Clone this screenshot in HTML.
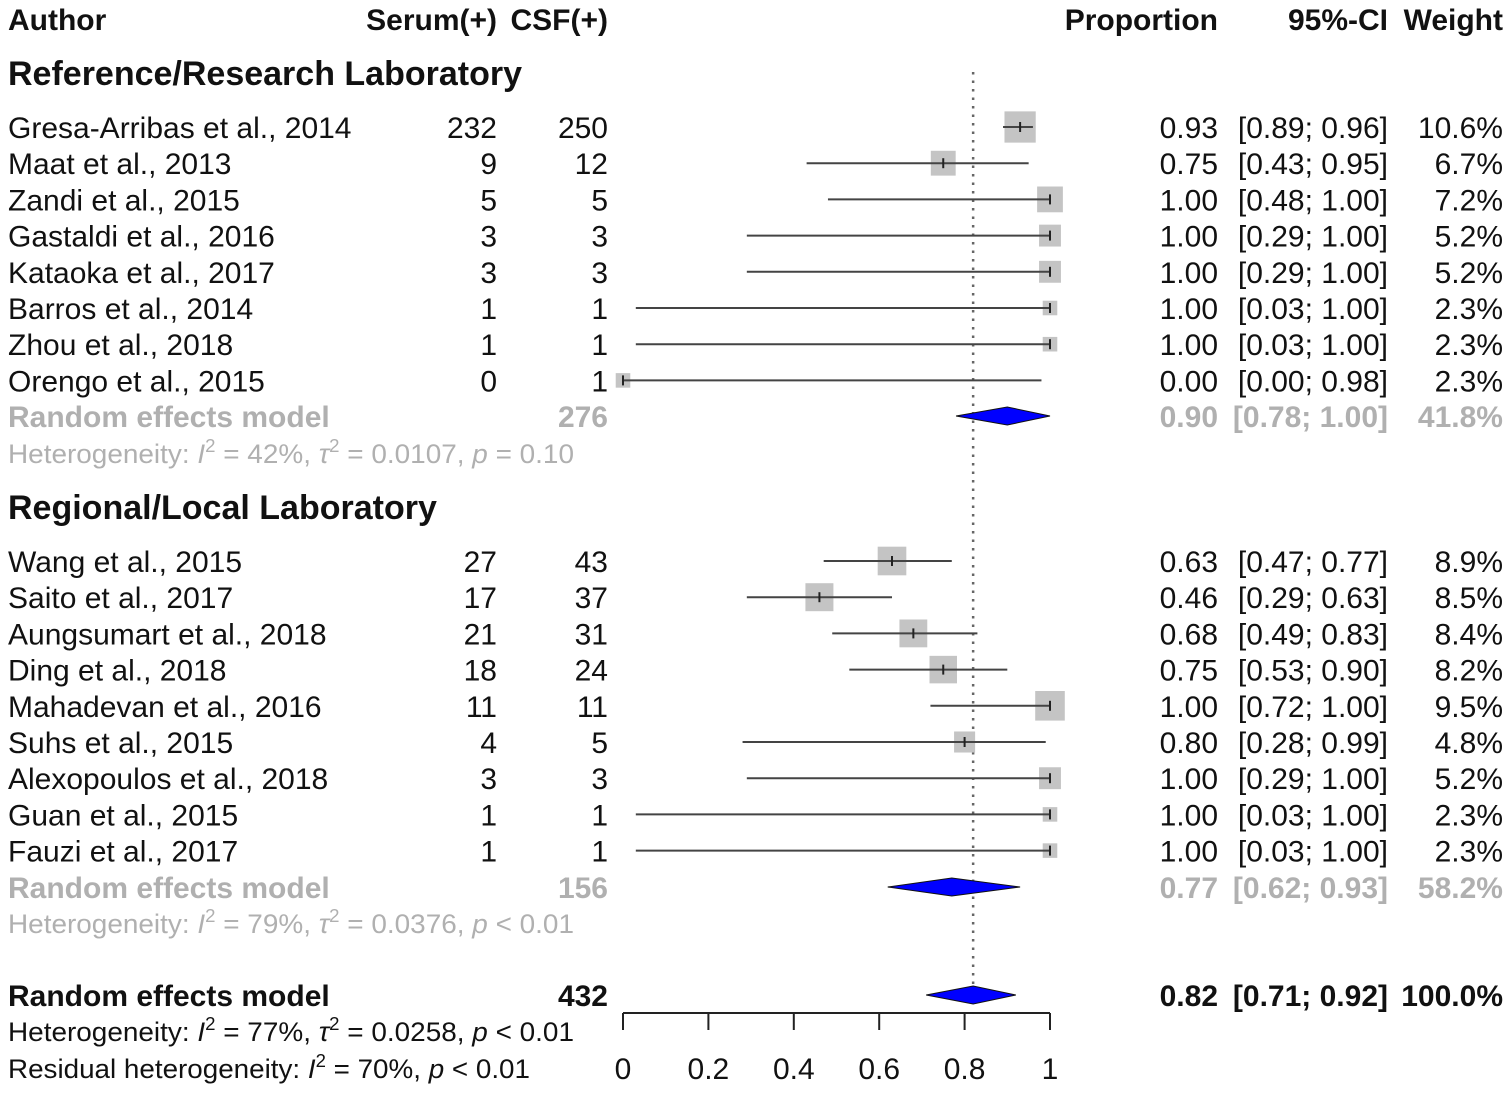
<!DOCTYPE html>
<html><head><meta charset="utf-8"><style>
html,body{margin:0;padding:0;background:#fff;}
svg{display:block;font-family:"Liberation Sans",Arial,sans-serif;}
</style></head><body>
<svg id="plot" width="1510" height="1093" viewBox="0 0 1510 1093">
<g font-size="30" font-weight="bold" fill="#111">
<text x="8" y="30">Author</text>
<text x="497" y="30" text-anchor="end">Serum(+)</text>
<text x="608" y="30" text-anchor="end">CSF(+)</text>
<text x="1218" y="30" text-anchor="end">Proportion</text>
<text x="1388" y="30" text-anchor="end">95%-CI</text>
<text x="1503" y="30" text-anchor="end">Weight</text>
</g>
<g id="marks"></g>
<g id="labels"></g>
</svg>
<script>
const g1Authors=["Gresa-Arribas et al., 2014","Maat et al., 2013","Zandi et al., 2015","Gastaldi et al., 2016","Kataoka et al., 2017","Barros et al., 2014","Zhou et al., 2018","Orengo et al., 2015"];
const g1Serum=[232,9,5,3,3,1,1,0];
const g1Csf=[250,12,5,3,3,1,1,1];
const g1Prop=[0.93,0.75,1.00,1.00,1.00,1.00,1.00,0.00];
const g1Lo=[0.89,0.43,0.48,0.29,0.29,0.03,0.03,0.00];
const g1Hi=[0.96,0.95,1.00,1.00,1.00,1.00,1.00,0.98];
const g1Wt=[10.6,6.7,7.2,5.2,5.2,2.3,2.3,2.3];
const g2Authors=["Wang et al., 2015","Saito et al., 2017","Aungsumart et al., 2018","Ding et al., 2018","Mahadevan et al., 2016","Suhs et al., 2015","Alexopoulos et al., 2018","Guan et al., 2015","Fauzi et al., 2017"];
const g2Serum=[27,17,21,18,11,4,3,1,1];
const g2Csf=[43,37,31,24,11,5,3,1,1];
const g2Prop=[0.63,0.46,0.68,0.75,1.00,0.80,1.00,1.00,1.00];
const g2Lo=[0.47,0.29,0.49,0.53,0.72,0.28,0.29,0.03,0.03];
const g2Hi=[0.77,0.63,0.83,0.90,1.00,0.99,1.00,1.00,1.00];
const g2Wt=[8.9,8.5,8.4,8.2,9.5,4.8,5.2,2.3,2.3];
const reProp=[0.90,0.77,0.82];
const reLo=[0.78,0.62,0.71];
const reHi=[1.00,0.93,0.92];
const reN=[276,156,432];
const reWt=[41.8,58.2,100.0];
const ticks=[0,0.2,0.4,0.6,0.8,1];
const tickLabels=["0","0.2","0.4","0.6","0.8","1"];

const NS="http://www.w3.org/2000/svg";
const X0=623,X1=1050;
const sx=v=>X0+(X1-X0)*v;
const FS=30;
const marks=document.getElementById('marks'), labels=document.getElementById('labels');
function el(tag,attrs,parent,text){const e=document.createElementNS(NS,tag);for(const k in attrs)e.setAttribute(k,attrs[k]);if(text!==undefined)e.textContent=text;parent.appendChild(e);return e;}
function txt(x,y,s,opt,name){
  const t=el('text',Object.assign({x:x,y:y,'font-size':FS,fill:'#111'},opt||{}),labels,s);
  
  
  return t;
}
function f2(v){return v.toFixed(2);}
function study(y,a,s,c,p,lo,hi,w,i,grp){
  const b=y+11;
  txt(8,b,a,{},'author-'+grp+'-'+i);
  txt(497,b,String(s),{'text-anchor':'end'},'serum-'+grp+'-'+i);
  txt(608,b,String(c),{'text-anchor':'end'},'csf-'+grp+'-'+i);
  txt(1218,b,f2(p),{'text-anchor':'end'},'proportion-'+grp+'-'+i);
  txt(1388,b,'['+f2(lo)+'; '+f2(hi)+']',{'text-anchor':'end'},'ci-'+grp+'-'+i);
  txt(1503,b,w.toFixed(1)+'%',{'text-anchor':'end'},'weight-'+grp+'-'+i);
  const sz=9.6*Math.sqrt(w);
  const r=el('rect',{x:sx(p)-sz/2,y:y-sz/2,width:sz,height:sz,fill:'#c4c4c4'},marks);
  
  
  const l=el('line',{x1:sx(lo),x2:sx(hi),y1:y,y2:y,stroke:'#444','stroke-width':2},marks);
  
  
  const t=el('line',{x1:sx(p),x2:sx(p),y1:y-5,y2:y+5,stroke:'#222','stroke-width':2},marks);
  
  
}
function diamond(y,k,color){
  const p=el('polygon',{points:`${sx(reLo[k])},${y} ${sx(reProp[k])},${y-9} ${sx(reHi[k])},${y} ${sx(reProp[k])},${y+9}`,fill:'#0000ff',stroke:'#111','stroke-width':1},marks);
  
  
  const b=y+11, o={'font-weight':'bold',fill:color};
  txt(8,b,'Random effects model',o,'re-label-'+k);
  txt(608,b,String(reN[k]),Object.assign({'text-anchor':'end'},o),'re-n-'+k);
  txt(1218,b,f2(reProp[k]),Object.assign({'text-anchor':'end'},o),'re-prop-'+k);
  txt(1388,b,'['+f2(reLo[k])+'; '+f2(reHi[k])+']',Object.assign({'text-anchor':'end'},o),'re-ci-'+k);
  txt(1503,b,reWt[k].toFixed(1)+'%',Object.assign({'text-anchor':'end'},o),'re-weight-'+k);
}
function het(y,html,color,len,name){
  const t=el('text',{x:8,y:y+10,'font-size':27,fill:color,textLength:len,lengthAdjust:'spacingAndGlyphs'},labels);
  t.innerHTML=html;
  
  
}
const ref=el('line',{x1:sx(reProp[2]),x2:sx(reProp[2]),y1:72,y2:1005,stroke:'#666','stroke-width':2.5,'stroke-dasharray':'2.5,6'},marks);



txt(8,85,'Reference/Research Laboratory',{'font-weight':'bold','font-size':34},'group1-header');
const rowH=36.2;
g1Authors.forEach((a,i)=>study(127+i*rowH,a,g1Serum[i],g1Csf[i],g1Prop[i],g1Lo[i],g1Hi[i],g1Wt[i],i,'g1'));
const gray='#b0b0b0';
diamond(416,0,gray);
het(453,'Heterogeneity: <tspan font-style="italic">I</tspan><tspan dy="-11" font-size="18">2</tspan><tspan dy="11"> = 42%, </tspan><tspan font-style="italic">τ</tspan><tspan dy="-11" font-size="18">2</tspan><tspan dy="11"> = 0.0107, </tspan><tspan font-style="italic">p</tspan> = 0.10',gray,566,'group1-heterogeneity');

txt(8,519,'Regional/Local Laboratory',{'font-weight':'bold','font-size':34},'group2-header');
g2Authors.forEach((a,i)=>study(561+i*rowH,a,g2Serum[i],g2Csf[i],g2Prop[i],g2Lo[i],g2Hi[i],g2Wt[i],i,'g2'));
diamond(887,1,gray);
het(923,'Heterogeneity: <tspan font-style="italic">I</tspan><tspan dy="-11" font-size="18">2</tspan><tspan dy="11"> = 79%, </tspan><tspan font-style="italic">τ</tspan><tspan dy="-11" font-size="18">2</tspan><tspan dy="11"> = 0.0376, </tspan><tspan font-style="italic">p</tspan> &lt; 0.01',gray,566,'group2-heterogeneity');

diamond(995,2,'#111');
het(1031,'Heterogeneity: <tspan font-style="italic">I</tspan><tspan dy="-11" font-size="18">2</tspan><tspan dy="11"> = 77%, </tspan><tspan font-style="italic">τ</tspan><tspan dy="-11" font-size="18">2</tspan><tspan dy="11"> = 0.0258, </tspan><tspan font-style="italic">p</tspan> &lt; 0.01','#111',566,'overall-heterogeneity');
het(1068,'Residual heterogeneity: <tspan font-style="italic">I</tspan><tspan dy="-11" font-size="18">2</tspan><tspan dy="11"> = 70%, </tspan><tspan font-style="italic">p</tspan> &lt; 0.01','#111',522,'residual-heterogeneity');

const ax=el('line',{x1:sx(ticks[0]),x2:sx(ticks[ticks.length-1]),y1:1013,y2:1013,stroke:'#222','stroke-width':2},marks);


ticks.forEach((v,i)=>{
  const t=el('line',{x1:sx(v),x2:sx(v),y1:1013,y2:1030,stroke:'#222','stroke-width':2},marks);
  
  
  txt(sx(v),1079,tickLabels[i],{'text-anchor':'middle'},'x-tick-label-'+i);
});
</script>
</body></html>
